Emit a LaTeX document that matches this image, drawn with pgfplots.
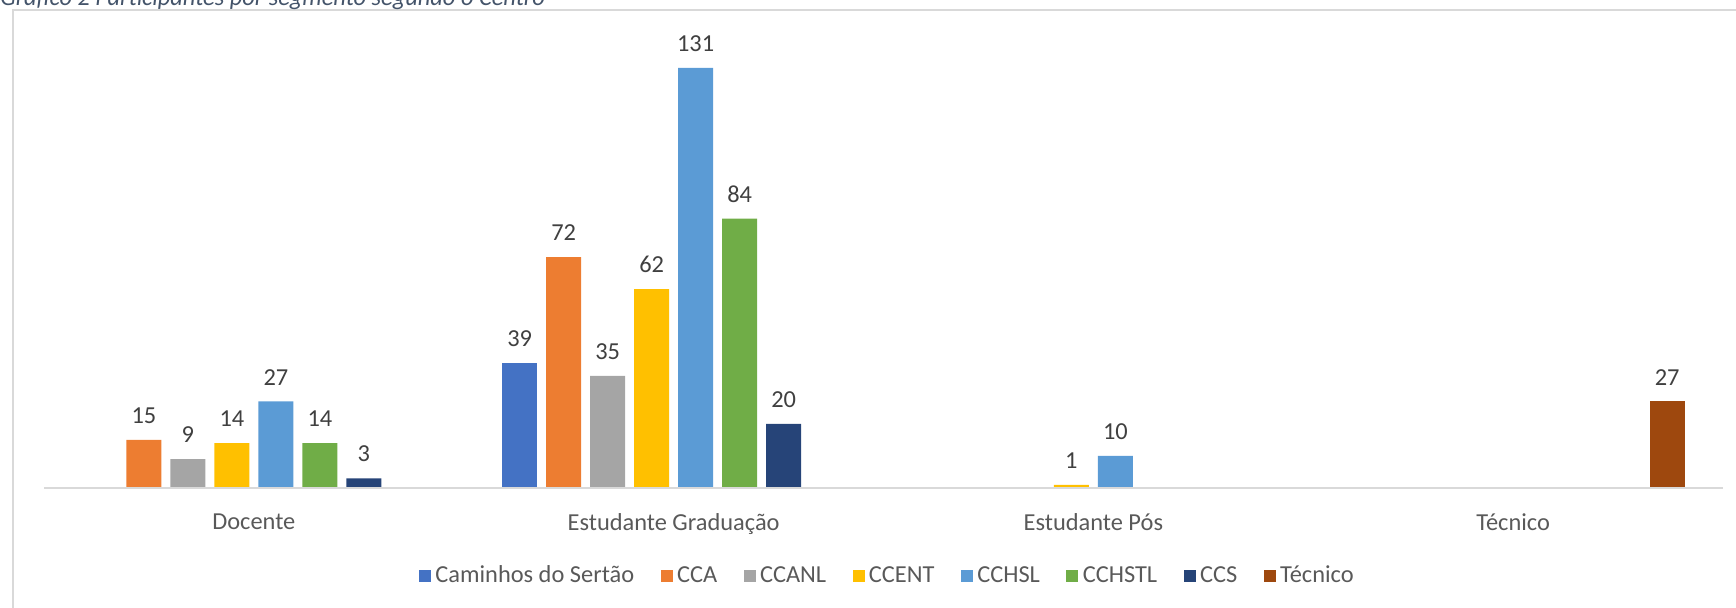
\documentclass[border=0pt]{standalone}
\usepackage{fontspec}
\setmainfont{Carlito}
\usepackage{pgfplots}
\pgfplotsset{compat=1.18}
\definecolor{cSertao}{HTML}{4472C4}
\definecolor{cCCA}{HTML}{ED7D31}
\definecolor{cCCANL}{HTML}{A5A5A5}
\definecolor{cCCENT}{HTML}{FFC000}
\definecolor{cCCHSL}{HTML}{5B9BD5}
\definecolor{cCCHSTL}{HTML}{70AD47}
\definecolor{cCCS}{HTML}{264478}
\definecolor{cTec}{HTML}{9E480E}
\definecolor{labelgray}{HTML}{595959}
\definecolor{valgray}{HTML}{404040}
\definecolor{linegray}{HTML}{D9D9D9}
\definecolor{titleblue}{HTML}{44546A}
\newcommand{\chartfont}{\fontsize{12.2}{14.5}\selectfont}

\begin{document}
\begin{tikzpicture}[x=1pt,y=1pt]
\path[use as bounding box] (0,0) rectangle (868,303.5);
% frame of the chart area, cut off at the right and bottom
\draw[linegray, line width=0.75pt] (6.5,-20) -- (6.5,298.5) -- (900,298.5);
\node[anchor=base west, inner sep=0pt, text=titleblue, font=\chartfont\itshape]
  at (0,301) {Gráfico 2 Participantes por segmento segundo o Centro};
\begin{axis}[
  at={(22pt,59.5pt)}, anchor=south west,
  width=839.5pt, height=224.5pt, scale only axis,
  ybar=4.5pt, bar width=17.5pt,
  xmin=-0.5, xmax=3.5, ymin=0, ymax=140,
  xtick={0,1,2,3},
  xticklabels={Docente, Estudante Graduação, Estudante Pós, Técnico},
  ytick=\empty,
  major tick length=0pt,
  axis line style={draw=none},
  /pgf/number format/assume math mode=true,
  xticklabel style={font=\chartfont, text=labelgray, anchor=north, inner sep=0pt, yshift=-12.5pt},
  nodes near coords,
  every node near coord/.append style={font=\chartfont, text=valgray, anchor=south, inner sep=0pt, yshift=8pt},
  legend columns=8,
  legend style={draw=none, fill=none, at={(0.503,-0.196)}, anchor=center,
    font=\chartfont, text=labelgray, nodes={inner sep=2.2pt},
    /tikz/every even column/.append style={column sep=11pt}},
  every axis plot post/.append style={
    legend image code/.code={\fill[##1] (0pt,-3pt) rectangle (6pt,3pt);}},
  extra description/.code={
    \draw[linegray, line width=1pt] (rel axis cs:0,0) -- (rel axis cs:1,0);},
]
\addplot[fill=cSertao, draw=none] coordinates {(1,39)};
\addplot[fill=cCCA, draw=none] coordinates {(0,15) (1,72)};
\addplot[fill=cCCANL, draw=none] coordinates {(0,9) (1,35)};
\addplot[fill=cCCENT, draw=none] coordinates {(0,14) (1,62) (2,1)};
\addplot[fill=cCCHSL, draw=none] coordinates {(0,27) (1,131) (2,10)};
\addplot[fill=cCCHSTL, draw=none] coordinates {(0,14) (1,84)};
\addplot[fill=cCCS, draw=none] coordinates {(0,3) (1,20)};
\addplot[fill=cTec, draw=none] coordinates {(3,27)};
\legend{Caminhos do Sertão, CCA, CCANL, CCENT, CCHSL, CCHSTL, CCS, Técnico}
\end{axis}
\end{tikzpicture}
\end{document}
